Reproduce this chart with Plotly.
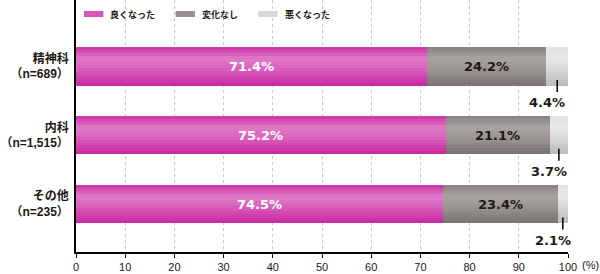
import plotly.graph_objects as go

categories = ["精神科", "内科", "その他"]
n_labels = ["689", "1,515", "235"]
series_names = ["良くなった", "変化なし", "悪くなった"]
improved = [71.4, 75.2, 74.5]
unchanged = [24.2, 21.1, 23.4]
worse = [4.4, 3.7, 2.1]
x_ticks = [0, 10, 20, 30, 40, 50, 60, 70, 80, 90, 100]

LATIN = "DejaVu Sans"
CJK = "Noto Sans CJK JP"
DARK = "#231815"

ypos = list(range(len(categories)))
W = 0.553  # bar thickness in category units

# vertical gradient stops (fraction from top, rgb)
grad_stops = {
    0: [(0.0, (205, 50, 168)), (0.3, (224, 124, 200)), (0.55, (218, 98, 190)), (1.0, (200, 40, 160))],
    1: [(0.0, (135, 130, 127)), (0.3, (168, 164, 162)), (0.6, (152, 147, 144)), (1.0, (120, 115, 112))],
    2: [(0.0, (226, 226, 226)), (0.3, (232, 232, 232)), (0.6, (214, 214, 214)), (1.0, (186, 186, 186))],
}
legend_colors = ["#d955bb", "#98938f", "#d8d8d8"]
N_BANDS = 13


def color_at(stops, f):
    for (f0, c0), (f1, c1) in zip(stops[:-1], stops[1:]):
        if f0 <= f <= f1:
            t = (f - f0) / (f1 - f0)
            return "rgb(%d,%d,%d)" % tuple(round(a + (b - a) * t) for a, b in zip(c0, c1))
    return "rgb(%d,%d,%d)" % stops[-1][1]


values = [improved, unchanged, worse]
bases = [[0] * len(improved), improved, [a + b for a, b in zip(improved, unchanged)]]

fig = go.Figure()
OV = 0.05
for si, (vals, base) in enumerate(zip(values, bases)):
    for k in range(N_BANDS):
        a = k / N_BANDS
        b = (k + 1) / N_BANDS
        bot = min(1.0, b + OV)
        fig.add_trace(go.Bar(
            y=ypos, x=vals, base=base, orientation="h",
            width=W * (bot - a), offset=-W / 2 + a * W,
            marker=dict(color=color_at(grad_stops[si], (a + b) / 2), line=dict(width=0)),
            hoverinfo="skip", showlegend=False,
        ))

annotations = []
for i in ypos:
    annotations.append(dict(
        x=improved[i] / 2, y=i, xref="x", yref="y", text=f"{improved[i]:.1f}%",
        showarrow=False, font=dict(family=LATIN, size=13, color="white", weight="bold")))
    annotations.append(dict(
        x=improved[i] + unchanged[i] / 2, y=i, xref="x", yref="y", text=f"{unchanged[i]:.1f}%",
        showarrow=False, font=dict(family=LATIN, size=13, color=DARK, weight="bold")))
    annotations.append(dict(
        x=bases[2][i] + worse[i] / 2, y=i + 0.53, xref="x", yref="y", text=f"{worse[i]:.1f}%",
        xshift=-10, showarrow=False,
        font=dict(family=LATIN, size=13, color=DARK, weight="bold")))

lx, ly = [], []
for i in ypos:
    cx = bases[2][i] + worse[i] / 2
    lx += [cx, cx, None]
    ly += [i + 0.196, i + 0.371, None]
fig.add_trace(go.Scatter(x=lx, y=ly, mode="lines", line=dict(color="black", width=1.5),
                         hoverinfo="skip", showlegend=False))

annotations.append(dict(x=1.0, y=0, xref="paper", yref="paper", xshift=12, yshift=-13,
                        text="(%)", showarrow=False, xanchor="left", yanchor="middle",
                        font=dict(family="Liberation Sans", size=11, color=DARK)))

shapes = []
leg_x = [0.0162, 0.2024, 0.3704]
for k, name in enumerate(series_names):
    x0 = leg_x[k]
    shapes.append(dict(type="rect", xref="paper", yref="paper", x0=x0, x1=x0 + 0.0395,
                       y0=1 - 17 / 252, y1=1 - 11 / 252, fillcolor=legend_colors[k],
                       line=dict(width=0), layer="above"))
    annotations.append(dict(x=x0 + 0.0395, y=1 - 14 / 252, xref="paper", yref="paper",
                            xshift=5, text=name, showarrow=False, xanchor="left",
                            yanchor="middle",
                            font=dict(family=CJK, size=9, color=DARK, weight="bold")))

ticktext = [f"{c}<br>（n={n}）" for c, n in zip(categories, n_labels)]

fig.update_layout(
    width=600, height=274,
    margin=dict(l=74, r=32, t=0, b=22),
    paper_bgcolor="white", plot_bgcolor="white",
    barmode="overlay", bargap=0,
    showlegend=False,
    annotations=annotations, shapes=shapes,
    font=dict(family=f"Liberation Sans, {CJK}", color=DARK),
    xaxis=dict(range=[0, 100], tickvals=x_ticks, ticktext=[str(t) for t in x_ticks],
               showgrid=True, gridcolor="#c8c8c8", griddash="dot", gridwidth=1,
               showline=True, linecolor="black", linewidth=1.5,
               ticks="outside", ticklen=4, tickcolor="black", tickwidth=1.2,
               tickfont=dict(family="Liberation Sans", size=11, color=DARK),
               zeroline=False, fixedrange=True),
    yaxis=dict(range=[2.698, -0.967], tickvals=ypos, ticktext=ticktext,
               showgrid=False, zeroline=False, showline=True, linecolor="black", linewidth=1.5,
               ticks="", ticklabelstandoff=3,
               tickfont=dict(family=f"Liberation Sans, {CJK}", size=12, color=DARK, weight="bold"),
               fixedrange=True),
)

fig.write_html("out.html")
